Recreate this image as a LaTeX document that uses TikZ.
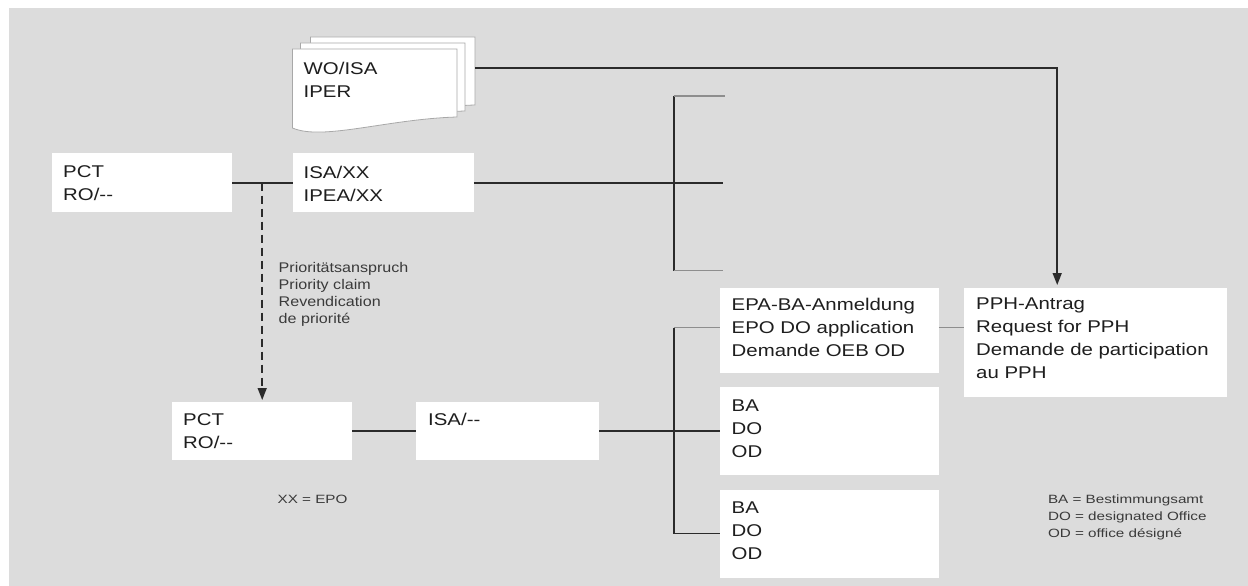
\documentclass[tikz,border=0pt]{standalone}
\usepackage{fontspec}
\newfontfamily\bigf[FakeStretch=1.2]{Liberation Sans}
\newfontfamily\midf[FakeStretch=1.15]{Liberation Sans}
\newfontfamily\smlf[FakeStretch=1.27]{Liberation Sans}
\usetikzlibrary{arrows.meta,calc}
\definecolor{bg}{HTML}{DCDCDC}
\definecolor{ln}{HTML}{2B2B2B}
\definecolor{lg}{HTML}{8E8E8E}
\definecolor{tx}{HTML}{1E1E1E}
\definecolor{tx2}{HTML}{3A3A3A}
\definecolor{sheetline}{HTML}{A8A8A8}
\begin{document}
\begin{tikzpicture}[x=1pt,y=-1pt,
  box/.style={rectangle, fill=white, draw=none, inner sep=0pt, anchor=north west},
  lbl/.style={anchor=north west, inner sep=0pt, align=left, text=tx, font=\bigf\fontsize{17}{23}\selectfont},
  conn/.style={draw=ln, line width=1.6pt},
  stub/.style={draw=lg, line width=1.3pt},
  arr/.style={-{Triangle[length=12pt,width=9pt]}},
  dashline/.style={dash pattern=on 8pt off 5pt},
  sheet/.style={fill=white, draw=sheetline, line width=0.8pt},
  note/.style={inner sep=0pt, align=left, text=tx2}
]
\useasboundingbox (0,0) rectangle (1248,586);
\fill[white] (0,0) rectangle (1248,586);
\fill[bg] (9,8) rectangle (1248,586);

% document stack
\foreach \dx/\dy in {18/-12, 8/-6, 0/0}{
  \begin{scope}[shift={(292.5+\dx,49+\dy)}]
    \path[sheet] (0,0) -- (164.5,0) -- (164.5,68) .. controls (95,70) and (30,92) .. (0,79) -- cycle;
  \end{scope}
}
\node[lbl] (doc) at (303.5,61.5) {WO/ISA\\IPER};
\coordinate (docR) at (475,68);

% boxes
\node[box, minimum width=180pt, minimum height=59pt,
  label={[lbl,xshift=11pt,yshift=-12.5pt]north west:{PCT\\RO/-{}-}}] (pct1) at (52,153) {};
\node[box, minimum width=181pt, minimum height=59pt,
  label={[lbl,xshift=11pt,yshift=-12.5pt]north west:{ISA/XX\\IPEA/XX}}] (isaxx) at (292.5,153) {};
\node[box, minimum width=180pt, minimum height=58pt,
  label={[lbl,xshift=11pt,yshift=-11pt]north west:{PCT\\RO/-{}-}}] (pct2) at (172,402) {};
\node[box, minimum width=183pt, minimum height=58pt,
  label={[lbl,xshift=12pt,yshift=-11pt]north west:{ISA/-{}-}}] (isa2) at (416,402) {};
\node[box, minimum width=218.5pt, minimum height=85pt,
  label={[lbl,xshift=11.5pt,yshift=-10pt]north west:{EPA-BA-Anmeldung\\EPO DO application\\Demande OEB OD}}] (epa) at (720,288) {};
\node[box, minimum width=218.5pt, minimum height=88pt,
  label={[lbl,xshift=11.5pt,yshift=-13pt]north west:{BA\\DO\\OD}}] (ba1) at (720,387) {};
\node[box, minimum width=218.5pt, minimum height=88pt,
  label={[lbl,xshift=11.5pt,yshift=-12.5pt]north west:{BA\\DO\\OD}}] (ba2) at (720,489.3) {};
\node[box, minimum width=263pt, minimum height=108.7pt,
  label={[lbl,xshift=12pt,yshift=-10pt]north west:{PPH-Antrag\\Request for PPH\\Demande de participation\\au PPH}}] (pph) at (964,288) {};

% notes
\node[note, anchor=north west, font=\midf\fontsize{14}{17.3}\selectfont] (prio) at (278.5,261.7)
  {Prioritätsanspruch\\Priority claim\\Revendication\\de priorité};
\node[note, anchor=base west, font=\smlf\fontsize{12}{16.7}\selectfont] (xx) at (277.4,503.3) {XX = EPO};
\node[note, anchor=north west, font=\smlf\fontsize{12}{16.7}\selectfont] (legend) at (1047.8,494.7)
  {BA = Bestimmungsamt\\DO = designated Office\\OD = office désigné};

% connectors
\draw[conn, arr] (docR) -| ([xshift=-38.5pt, yshift=3pt]pph.north);
\draw[conn] (pct1.east) -- (isaxx.west);
\draw[conn, dashline, arr] (pct2.north |- pct1.east) -- ([yshift=2pt]pct2.north);

\coordinate (b1t) at (673.7,96);
\coordinate (b1b) at (673.7,270.7);
\coordinate (b1tE) at (725,96);
\coordinate (b1bE) at (722.7,270.7);
\coordinate (b1mE) at (722.7,183);
\draw[conn] (isaxx.east) -- (isaxx.east -| b1mE);
\draw[conn] (b1t) -- (b1b);
\draw[stub] (b1t) -- (b1tE);
\draw[stub] (b1b) -- (b1bE);

\draw[conn] (pct2.east) -- (isa2.west);
\draw[conn] (isa2.east) -- (ba1.west);
\coordinate (b2t) at (673.7,327.7);
\draw[conn] (b2t) -- (b2t |- ba2.west) -- (ba2.west);
\draw[stub] (b2t) -- (b2t -| epa.west);
\draw[stub] (epa.east |- b2t) -- (b2t -| pph.west);
\end{tikzpicture}
\end{document}
